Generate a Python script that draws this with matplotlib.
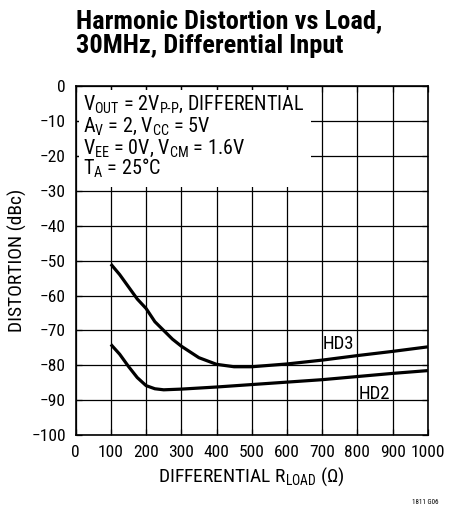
import matplotlib
matplotlib.use("Agg")
import matplotlib.pyplot as plt
from matplotlib import font_manager as fm
from matplotlib.patches import Rectangle

# pick a condensed grotesque close to Helvetica Condensed
installed = set(f.name for f in fm.fontManager.ttflist)
font = 'DejaVu Sans'
for cand in ['Roboto Condensed', 'Archivo Narrow', 'PT Sans Narrow', 'Liberation Sans Narrow', 'Barlow Semi Condensed']:
    if cand in installed:
        font = cand
        break

plt.rcParams['font.family'] = [font, 'DejaVu Sans']
plt.rcParams['mathtext.fontset'] = 'custom'
plt.rcParams['mathtext.rm'] = font
plt.rcParams['mathtext.it'] = font
plt.rcParams['mathtext.bf'] = font + ':bold'

# data
hd3_load = [100, 125, 150, 175, 200, 225, 250, 275, 300, 350, 400, 450, 500, 550, 600, 700, 800, 900, 1000]
hd3_dist = [-51, -54, -57.5, -61, -63.7, -67.5, -70, -72.5, -74.5, -77.8, -79.7, -80.4, -80.4, -80, -79.6, -78.5, -77.2, -76, -74.7]
hd2_load = [100, 125, 150, 175, 200, 225, 250, 300, 400, 500, 600, 700, 800, 900, 1000]
hd2_dist = [-74, -76.8, -80.3, -83.5, -85.8, -86.7, -87, -86.8, -86.2, -85.5, -84.8, -84.1, -83.2, -82.3, -81.5]
x_ticks = list(range(0, 1001, 100))
y_ticks = list(range(-100, 1, 10))

fig = plt.figure(figsize=(4.64, 5.12), dpi=100)
ax = fig.add_axes([0.163, 0.150, 0.759, 0.682])

ax.plot(hd3_load, hd3_dist, color='black', lw=2.3, solid_capstyle='butt', zorder=3)
ax.plot(hd2_load, hd2_dist, color='black', lw=2.3, solid_capstyle='butt', zorder=3)

ax.set_xlim(0, 1000)
ax.set_ylim(-100, 0)
ax.set_xticks(x_ticks)
ax.set_yticks(y_ticks)
ax.grid(True, color='black', lw=0.9)
ax.set_axisbelow(True)
ax.tick_params(direction='in', length=4, width=0.9, labelsize=12.5, pad=7, top=True, right=True)
for s in ax.spines.values():
    s.set_linewidth(1.2)

# condition box (white, covering grid)
ax.add_patch(Rectangle((10, -28.8), 657, 27.6, facecolor='white', edgecolor='none', zorder=1))
box_lines = [r'V$_{\mathrm{OUT}}$ = 2V$_{\mathrm{P\text{-}P}}$, DIFFERENTIAL',
             r'A$_{\mathrm{V}}$ = 2, V$_{\mathrm{CC}}$ = 5V',
             r'V$_{\mathrm{EE}}$ = 0V, V$_{\mathrm{CM}}$ = 1.6V',
             'T$_{\mathrm{A}}$ = 25°C']
for i, t in enumerate(box_lines):
    ax.text(0.021, 0.931 - i * 0.062, t, transform=ax.transAxes, fontsize=14.5,
            va='baseline', ha='left', zorder=4)

ax.text(745, -74, 'HD3', fontsize=13.5, ha='center', va='center', zorder=4)
ax.text(848, -88.3, 'HD2', fontsize=13.5, ha='center', va='center', zorder=4)

ax.set_xlabel(r'DIFFERENTIAL R$_{\mathrm{LOAD}}$ ($\Omega$)', fontsize=14, labelpad=4)
ax.set_ylabel('DISTORTION (dBc)', fontsize=14, labelpad=3)

fig.text(0.163, 0.982, 'Harmonic Distortion vs Load,\n30MHz, Differential Input',
         fontsize=19, fontweight='bold', ha='left', va='top', linespacing=1.05)
fig.text(0.945, 0.012, '1811 G06', fontsize=5, ha='right', va='bottom')

fig.savefig('out.png', dpi=100)
